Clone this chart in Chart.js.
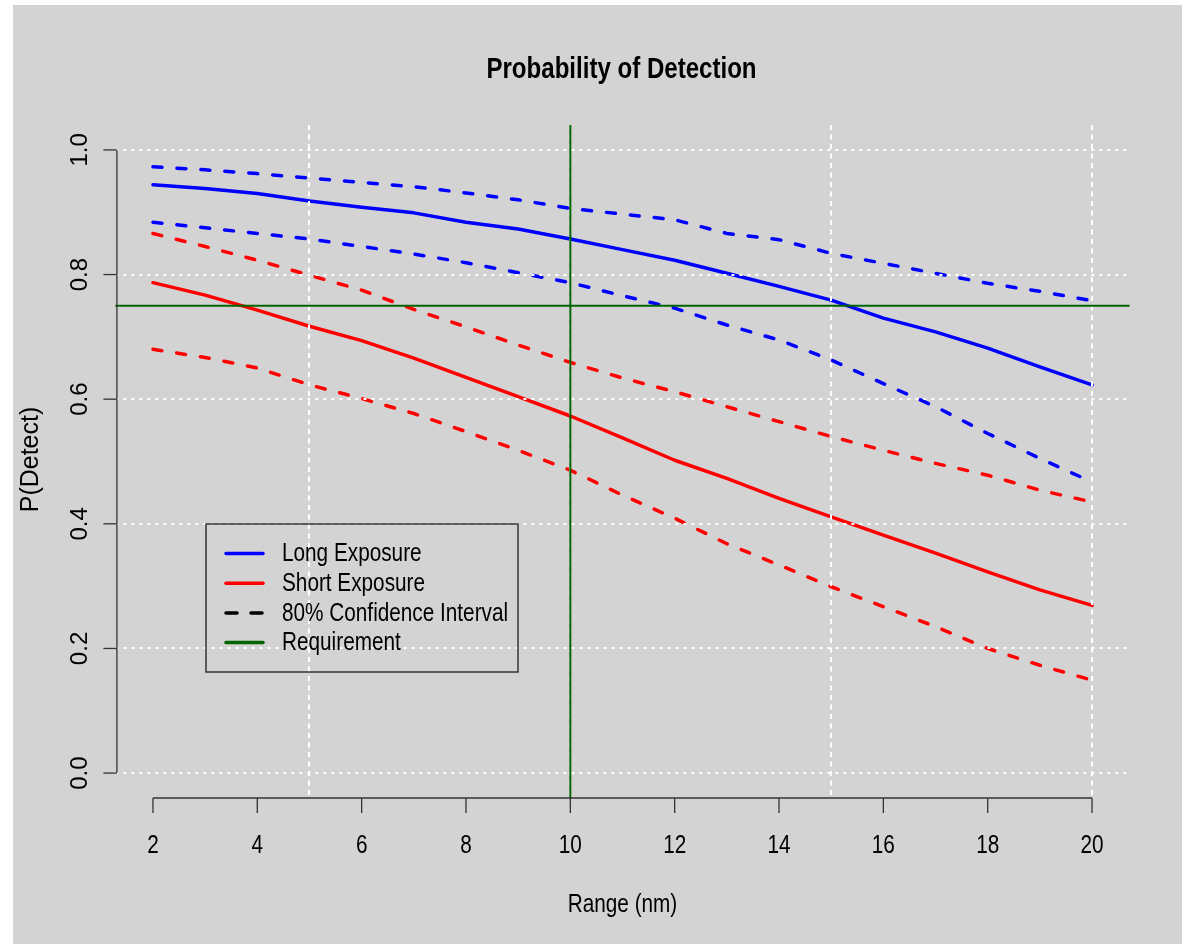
<!DOCTYPE html>
<html>
<head>
<meta charset="utf-8">
<script src="https://cdn.jsdelivr.net/npm/chart.js@4"></script>
<style>
  html, body { margin: 0; padding: 0; background: #ffffff; }
  canvas { display: block; }
</style>
</head>
<body>
<canvas id="myChart" width="1182" height="944"></canvas>
<script>
// range values (nm)
const ranges = [2, 3, 4, 5, 6, 7, 8, 9, 10, 11, 12, 13, 14, 15, 16, 17, 18, 19, 20];

// long exposure: estimate and 80% interval
const longMid = [0.944, 0.938, 0.930, 0.918, 0.908, 0.899, 0.884, 0.873, 0.857, 0.840, 0.823, 0.802, 0.781, 0.759, 0.730, 0.708, 0.682, 0.652, 0.623];
const longHi  = [0.973, 0.968, 0.962, 0.955, 0.948, 0.941, 0.931, 0.920, 0.906, 0.897, 0.888, 0.866, 0.856, 0.834, 0.818, 0.802, 0.786, 0.773, 0.758];
const longLo  = [0.884, 0.875, 0.866, 0.857, 0.845, 0.833, 0.819, 0.803, 0.787, 0.766, 0.746, 0.719, 0.695, 0.663, 0.625, 0.588, 0.545, 0.505, 0.467];

// short exposure: estimate and 80% interval
const shortMid = [0.787, 0.767, 0.743, 0.717, 0.694, 0.666, 0.635, 0.604, 0.573, 0.538, 0.502, 0.473, 0.441, 0.411, 0.382, 0.353, 0.323, 0.294, 0.269];
const shortHi  = [0.866, 0.845, 0.823, 0.799, 0.775, 0.744, 0.716, 0.687, 0.659, 0.634, 0.612, 0.588, 0.564, 0.540, 0.518, 0.497, 0.478, 0.454, 0.435];
const shortLo  = [0.680, 0.667, 0.650, 0.623, 0.601, 0.577, 0.548, 0.518, 0.486, 0.446, 0.409, 0.368, 0.334, 0.299, 0.267, 0.235, 0.200, 0.173, 0.149];

// requirement
const reqProb = 0.75;
const reqRange = 10;

// axes
const xTicks = [2, 4, 6, 8, 10, 12, 14, 16, 18, 20];
const xTickLabels = ['2', '4', '6', '8', '10', '12', '14', '16', '18', '20'];
const yTicks = [0, 0.2, 0.4, 0.6, 0.8, 1.0];
const yTickLabels = ['0.0', '0.2', '0.4', '0.6', '0.8', '1.0'];
const xGrid = [5, 10, 15, 20];
const yGrid = [0, 0.2, 0.4, 0.6, 0.8, 1.0];

const legendItems = ['Long Exposure', 'Short Exposure', '80% Confidence Interval', 'Requirement'];

const BLUE = '#0000ff';
const RED = '#ff0000';
const GREEN = '#006400';
const BG = '#d3d3d3';
const SANS = '"Liberation Sans", Arial, sans-serif';
const SQUEEZE = 0.83; // the original text is horizontally condensed

function pts(ys) {
  return ranges.map((x, i) => ({ x: x, y: ys[i] }));
}

function series(label, ys, color, dashed) {
  return {
    label: label,
    data: pts(ys),
    borderColor: color,
    borderWidth: 3.5,
    borderDash: dashed ? [9, 15] : [],
    borderCapStyle: 'round',
    borderJoinStyle: 'round',
    pointRadius: 0,
    tension: 0,
    fill: false
  };
}

// condensed text: scale x only around the anchor point
function narrowText(ctx, text, x, y) {
  ctx.save();
  ctx.translate(x, y);
  ctx.scale(SQUEEZE, 1);
  ctx.fillText(text, 0, 0);
  ctx.restore();
}

// R style frame: background, grid, requirement lines, axes, legend, title
const rDecor = {
  id: 'rDecor',
  beforeDraw(chart) {
    const ctx = chart.ctx;
    ctx.save();
    ctx.fillStyle = '#ffffff';
    ctx.fillRect(0, 0, chart.width, chart.height);
    ctx.fillStyle = BG;
    ctx.fillRect(13, 5, chart.width - 13, chart.height - 5);
    ctx.restore();
  },
  afterDatasetsDraw(chart) {
    const ctx = chart.ctx;
    const xs = chart.scales.x, ys = chart.scales.y;
    const a = chart.chartArea;
    ctx.save();

    // grid
    ctx.strokeStyle = '#ffffff';
    ctx.lineWidth = 2;
    ctx.setLineDash([3, 5]);
    yGrid.forEach(v => {
      const py = Math.round(ys.getPixelForValue(v));
      ctx.beginPath(); ctx.moveTo(a.left, py); ctx.lineTo(a.right, py); ctx.stroke();
    });
    ctx.setLineDash([5, 4.5]);
    xGrid.forEach(v => {
      const px = Math.round(xs.getPixelForValue(v));
      ctx.beginPath(); ctx.moveTo(px, a.top); ctx.lineTo(px, a.bottom); ctx.stroke();
    });
    ctx.setLineDash([]);

    // requirement lines
    ctx.strokeStyle = GREEN;
    ctx.lineWidth = 2;
    const ry = ys.getPixelForValue(reqProb);
    ctx.beginPath(); ctx.moveTo(a.left, ry); ctx.lineTo(a.right, ry); ctx.stroke();
    const rx = xs.getPixelForValue(reqRange);
    ctx.beginPath(); ctx.moveTo(rx, a.top); ctx.lineTo(rx, a.bottom); ctx.stroke();

    // axes
    ctx.strokeStyle = '#333333';
    ctx.lineWidth = 1.3;
    const x0 = xs.getPixelForValue(xTicks[0]);
    const x1 = xs.getPixelForValue(xTicks[xTicks.length - 1]);
    ctx.beginPath(); ctx.moveTo(x0, a.bottom); ctx.lineTo(x1, a.bottom); ctx.stroke();
    xTicks.forEach(v => {
      const px = xs.getPixelForValue(v);
      ctx.beginPath(); ctx.moveTo(px, a.bottom); ctx.lineTo(px, a.bottom + 15); ctx.stroke();
    });
    const y0 = ys.getPixelForValue(yTicks[0]);
    const y1 = ys.getPixelForValue(yTicks[yTicks.length - 1]);
    ctx.beginPath(); ctx.moveTo(a.left + 1.5, y0); ctx.lineTo(a.left + 1.5, y1); ctx.stroke();
    yTicks.forEach(v => {
      const py = ys.getPixelForValue(v);
      ctx.beginPath(); ctx.moveTo(a.left + 1.5, py); ctx.lineTo(a.left - 12, py); ctx.stroke();
    });

    // tick labels
    ctx.fillStyle = '#000000';
    ctx.font = '25px ' + SANS;
    ctx.textAlign = 'center';
    ctx.textBaseline = 'alphabetic';
    xTicks.forEach((v, i) => {
      narrowText(ctx, xTickLabels[i], xs.getPixelForValue(v), 853);
    });
    ctx.font = '24px ' + SANS;
    yTicks.forEach((v, i) => {
      ctx.save();
      ctx.translate(87, ys.getPixelForValue(v));
      ctx.rotate(-Math.PI / 2);
      ctx.fillText(yTickLabels[i], 0, 0);
      ctx.restore();
    });

    // axis titles
    const cx = (a.left + a.right) / 2;
    const cy = (a.top + a.bottom) / 2;
    ctx.font = '25px ' + SANS;
    narrowText(ctx, 'Range (nm)', cx, 912);
    ctx.save();
    ctx.translate(37.5, cy - 2);
    ctx.rotate(-Math.PI / 2);
    ctx.fillText('P(Detect)', 0, 0);
    ctx.restore();

    // title
    ctx.font = 'bold 29px ' + SANS;
    narrowText(ctx, 'Probability of Detection', cx - 1, 78);

    // legend
    ctx.strokeStyle = '#333333';
    ctx.lineWidth = 1.5;
    ctx.strokeRect(206, 524, 312, 148);
    const colors = [BLUE, RED, '#000000', GREEN];
    ctx.font = '25px ' + SANS;
    ctx.textAlign = 'left';
    ctx.textBaseline = 'middle';
    legendItems.forEach((t, i) => {
      const ly = 553.5 + i * 29.7;
      ctx.strokeStyle = colors[i];
      ctx.lineWidth = 3.5;
      ctx.lineCap = 'round';
      ctx.setLineDash(i === 2 ? [11, 14] : []);
      ctx.beginPath(); ctx.moveTo(226, ly); ctx.lineTo(263, ly); ctx.stroke();
      ctx.setLineDash([]);
      ctx.fillStyle = '#000000';
      narrowText(ctx, t, 282, ly + 1);
    });

    ctx.restore();
  }
};

const myChart = new Chart('myChart', {
  type: 'line',
  data: {
    datasets: [
      series('Long Exposure', longMid, BLUE, false),
      series('Long upper', longHi, BLUE, true),
      series('Long lower', longLo, BLUE, true),
      series('Short Exposure', shortMid, RED, false),
      series('Short upper', shortHi, RED, true),
      series('Short lower', shortLo, RED, true)
    ]
  },
  options: {
    responsive: false,
    animation: false,
    layout: { padding: { left: 115.4, right: 52.4, top: 125, bottom: 146 } },
    plugins: {
      legend: { display: false },
      title: { display: false },
      tooltip: { enabled: false }
    },
    scales: {
      x: { type: 'linear', min: 1.28, max: 20.72, display: false },
      y: { type: 'linear', min: -0.04, max: 1.04, display: false }
    }
  },
  plugins: [rDecor]
});
</script>
</body>
</html>
